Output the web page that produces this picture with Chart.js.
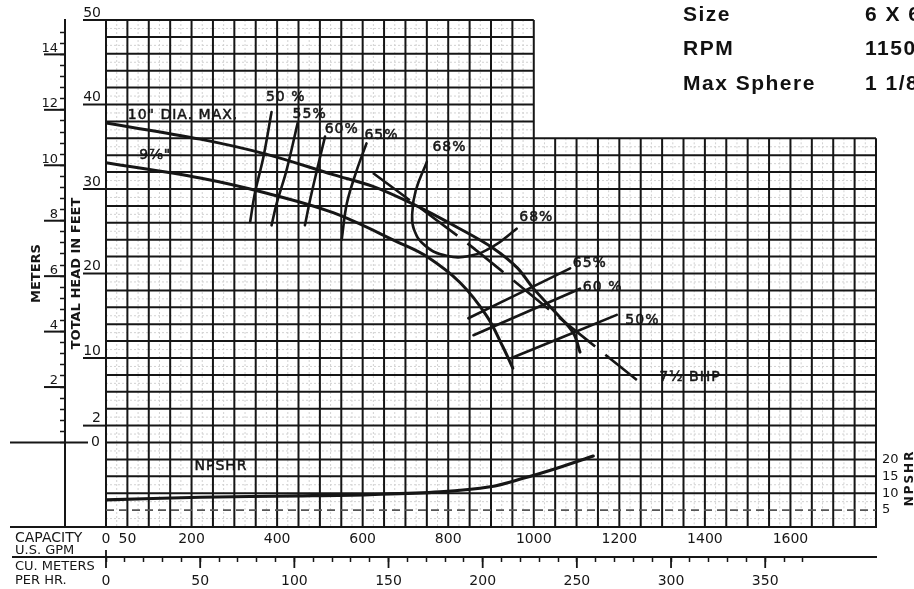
<!DOCTYPE html>
<html>
<head>
<meta charset="utf-8">
<title>6 X 6 — 1150 RPM</title>
<script src="https://cdn.jsdelivr.net/npm/chart.js@4.4.1/dist/chart.umd.min.js"></script>
<style>
  html, body { margin: 0; padding: 0; background: #fff; }
  #wrap { position: relative; width: 914px; height: 589px; overflow: hidden; }
  #chart { position: absolute; left: 0; top: 0; }
  .spec { position: absolute; font: bold 21px "Liberation Sans", Arial, sans-serif; letter-spacing: 1.5px; line-height: 21px; color: #111; white-space: nowrap; }
</style>
</head>
<body>
<div id="wrap">
  <canvas id="chart" width="914" height="589"></canvas>
  <div class="spec" style="left:683px;top:3px">Size</div>
  <div class="spec" style="left:865px;top:3px">6 X 6</div>
  <div class="spec" style="left:683px;top:37px">RPM</div>
  <div class="spec" style="left:865px;top:37px">1150</div>
  <div class="spec" style="left:683px;top:72px">Max Sphere</div>
  <div class="spec" style="left:865px;top:72px">1 1/8</div>
</div>
<script>
// оси
const GPM_MAX = 1800;
const FT_MIN = -10;
const FT_MAX = 50;
const GPM_PER_M3H = 4.402868;
const FT_PER_M = 3.28084;
const NPSH_MAX = 150;
const GRID_GPM = 50;
const GRID_FT = 2;
const NOTCH_GPM = 1000;
const NOTCH_FT = 36;
const NPSH_DASHED_FT = -8;

// подписи делений
const GPM_LABELS = [0, 50, 200, 400, 600, 800, 1000, 1200, 1400, 1600];
const M3H_LABELS = [0, 50, 100, 150, 200, 250, 300, 350];
const M3H_LAST_TICK = 370;
const FEET_LABELS = [50, 40, 30, 20, 10, 2, 0];
const METER_LABELS = [14, 12, 10, 8, 6, 4, 2];
const NPSH_LABELS = [5, 10, 15, 20];

// напор-подача, 10" макс.
const DIA_MAX_GPM = [0, 220, 376, 531, 624, 718, 827, 905, 961, 998, 1045, 1092, 1108];
const DIA_MAX_FT = [37.8, 35.9, 34.1, 31.7, 30.3, 28.2, 25.3, 23.0, 20.7, 18.3, 15.7, 13.0, 10.7];
// 9 7/8"
const DIA_978_GPM = [0, 220, 376, 531, 687, 750, 828, 891, 928, 951];
const DIA_978_FT = [33.1, 31.3, 29.5, 27.2, 23.6, 22.0, 18.9, 14.9, 11.3, 8.8];
// 7 1/2 BHP
const BHP_GPM = [624, 844, 1022, 1241];
const BHP_FT = [31.9, 23.6, 16.3, 7.4];

// кпд
const EFF_50_GPM = [387, 368, 348, 337];
const EFF_50_FT = [39.1, 33.8, 29.5, 26.1];
const EFF_55_GPM = [448, 422, 399, 387];
const EFF_55_FT = [37.8, 32.2, 28.3, 25.7];
const EFF_60_GPM = [512, 493, 477, 465];
const EFF_60_FT = [36.2, 32.2, 28.7, 25.7];
const EFF_65_GPM = [609, 586, 563, 551];
const EFF_65_FT = [35.4, 32.2, 28.3, 24.0];
const EFF_68_GPM = [750, 724, 716, 720, 746, 796, 851, 905, 960];
const EFF_68_FT = [33.2, 29.8, 27.2, 25.2, 23.3, 22.1, 22.1, 23.2, 25.3];
const EFF_R65_GPM = [847, 1085];
const EFF_R65_FT = [14.7, 20.6];
const EFF_R60_GPM = [859, 1108];
const EFF_R60_FT = [12.7, 18.2];
const EFF_R50_GPM = [948, 1194];
const EFF_R50_FT = [10.0, 15.1];

// npshr
const NPSHR_GPM = [0, 220, 453, 617, 781, 898, 975, 1054, 1139];
const NPSHR_FT = [8.0, 8.8, 9.2, 9.6, 10.4, 11.9, 14.4, 17.4, 21.0];

// надписи на поле
const CURVE_TEXT = ['10" DIA. MAX.', '9⅞"', '50 %', '55%', '60%', '65%', '68%', '68%', '65%', '60 %', '50%', '7½ BHP', 'NPSHR'];
const CURVE_TEXT_GPM = [180, 115, 420, 476, 551, 644, 803, 1006, 1131, 1161, 1254, 1365, 269];
const CURVE_TEXT_FT = [38.75, 34.0, 40.8, 38.8, 37.0, 36.4, 34.9, 26.7, 21.2, 18.4, 14.4, 7.75, -2.87];

const INK = '#161616';
const FONT = '"DejaVu Sans", sans-serif';

const pts = (xs, ys) => xs.map((x, i) => ({ x, y: ys[i] }));

function curve(label, xs, ys, extra) {
  return Object.assign({
    label,
    data: pts(xs, ys),
    showLine: true,
    borderColor: INK,
    borderWidth: 2.6,
    borderCapStyle: 'round',
    pointRadius: 0,
    tension: 0.35,
    yAxisID: 'y',
  }, extra || {});
}

// сетка и надписи
const chartDecor = {
  id: 'chartDecor',
  beforeDatasetsDraw(chart) {
    const { ctx, scales } = chart;
    const X = v => scales.x.getPixelForValue(v);
    const Y = v => scales.y.getPixelForValue(v);
    const seg = (x1, y1, x2, y2) => { ctx.beginPath(); ctx.moveTo(x1, y1); ctx.lineTo(x2, y2); ctx.stroke(); };
    ctx.save();

    ctx.strokeStyle = '#d2d2d2';
    ctx.lineWidth = 1;
    ctx.setLineDash([2, 2]);
    for (let g = GRID_GPM / 2; g < GPM_MAX; g += GRID_GPM) {
      seg(X(g), Y(g < NOTCH_GPM ? FT_MAX : NOTCH_FT), X(g), Y(FT_MIN));
    }
    for (let f = FT_MIN + GRID_FT / 2; f < FT_MAX; f += GRID_FT) {
      seg(X(0), Y(f), X(f < NOTCH_FT ? GPM_MAX : NOTCH_GPM), Y(f));
    }

    ctx.setLineDash([]);
    ctx.strokeStyle = INK;
    ctx.lineWidth = 2;
    for (let g = 0; g <= GPM_MAX; g += GRID_GPM) {
      seg(X(g), Y(g <= NOTCH_GPM ? FT_MAX : NOTCH_FT), X(g), Y(FT_MIN));
    }
    for (let f = FT_MIN; f <= FT_MAX; f += GRID_FT) {
      if (f === NPSH_DASHED_FT) continue;
      seg(X(0), Y(f), X(f <= NOTCH_FT ? GPM_MAX : NOTCH_GPM), Y(f));
    }
    ctx.lineWidth = 1.6;
    ctx.strokeStyle = '#555';
    ctx.setLineDash([8, 5]);
    seg(X(0), Y(NPSH_DASHED_FT), X(GPM_MAX), Y(NPSH_DASHED_FT));
    ctx.restore();
  },
  afterDraw(chart) {
    const { ctx, scales } = chart;
    const X = v => scales.x.getPixelForValue(v);
    const Y = v => scales.y.getPixelForValue(v);
    const m = scales.m;
    const q = scales.m3h;
    const seg = (x1, y1, x2, y2) => { ctx.beginPath(); ctx.moveTo(x1, y1); ctx.lineTo(x2, y2); ctx.stroke(); };
    ctx.save();
    ctx.strokeStyle = INK;
    ctx.lineWidth = 2;

    // подчёркивания у футов и метров
    FEET_LABELS.forEach(f => { if (f !== 0) seg(X(0) - 23, Y(f), X(0), Y(f)); });
    seg(10, Y(0), X(0) - 18, Y(0));
    METER_LABELS.forEach(v => seg(m.right - 21, m.getPixelForValue(v), m.right, m.getPixelForValue(v)));

    // линии низа влево
    seg(10, Y(FT_MIN), X(0), Y(FT_MIN));
    seg(12, q.top, X(0), q.top);
    ctx.lineWidth = 1.8;
    M3H_LABELS.forEach(v => {
      const px = q.getPixelForValue(v);
      seg(px, v === 0 ? q.top - 7 : q.top, px, q.top + 11);
    });

    ctx.fillStyle = INK;
    ctx.textBaseline = 'middle';

    // ноль футов на уровне линии
    ctx.textAlign = 'right';
    ctx.font = '14px ' + FONT;
    ctx.fillText('0', X(0) - 6, Y(0));

    // надписи кривых
    ctx.textAlign = 'center';
    ctx.letterSpacing = '1px';
    ctx.lineWidth = 0.5;
    CURVE_TEXT.forEach((t, i) => {
      ctx.fillText(t, X(CURVE_TEXT_GPM[i]), Y(CURVE_TEXT_FT[i]));
      ctx.strokeText(t, X(CURVE_TEXT_GPM[i]), Y(CURVE_TEXT_FT[i]));
    });

    // подписи расхода
    ctx.letterSpacing = '0px';
    ctx.textAlign = 'left';
    ctx.font = '14px ' + FONT;
    ctx.fillText('CAPACITY', 15, scales.x.top + 11);
    ctx.font = '13px ' + FONT;
    ctx.fillText('U.S. GPM', 15, scales.x.top + 24);
    ctx.fillText('CU. METERS', 15, q.top + 10);
    ctx.fillText('PER HR.', 15, q.top + 24);

    // npshr справа
    ctx.translate(910, Y(-4.2));
    ctx.rotate(-Math.PI / 2);
    ctx.textAlign = 'center';
    ctx.font = 'bold 12px ' + FONT;
    ctx.letterSpacing = '2px';
    ctx.fillText('NPSHR', 0, 0);
    ctx.restore();
  },
};

const tickFont = { family: FONT, size: 14 };

new Chart(document.getElementById('chart'), {
  type: 'scatter',
  data: {
    datasets: [
      curve('10" DIA. MAX.', DIA_MAX_GPM, DIA_MAX_FT, { borderWidth: 3 }),
      curve('9 7/8"', DIA_978_GPM, DIA_978_FT, { borderWidth: 3 }),
      curve('7 1/2 BHP', BHP_GPM, BHP_FT, { borderDash: [46, 13], borderCapStyle: 'butt', tension: 0.2 }),
      curve('50%', EFF_50_GPM, EFF_50_FT),
      curve('55%', EFF_55_GPM, EFF_55_FT),
      curve('60%', EFF_60_GPM, EFF_60_FT),
      curve('65%', EFF_65_GPM, EFF_65_FT),
      curve('68%', EFF_68_GPM, EFF_68_FT, { tension: 0.45 }),
      curve('65% r', EFF_R65_GPM, EFF_R65_FT),
      curve('60% r', EFF_R60_GPM, EFF_R60_FT),
      curve('50% r', EFF_R50_GPM, EFF_R50_FT),
      curve('NPSHR', NPSHR_GPM, NPSHR_FT, { yAxisID: 'npsh', borderWidth: 3.2 }),
    ],
  },
  options: {
    responsive: false,
    animation: false,
    events: [],
    layout: { padding: { top: 20, left: 0, right: 0, bottom: 0 } },
    plugins: { legend: { display: false }, tooltip: { enabled: false } },
    scales: {
      x: {
        type: 'linear', position: 'bottom', min: 0, max: GPM_MAX, weight: 0,
        afterFit: s => { s.height = 30; },
        grid: { display: false, drawTicks: false },
        border: { display: true, color: INK, width: 2 },
        ticks: {
          stepSize: GRID_GPM, autoSkip: false, maxRotation: 0, minRotation: 0, padding: 4,
          color: INK, font: tickFont,
          callback: v => GPM_LABELS.includes(v) ? String(v) : '',
        },
      },
      m3h: {
        type: 'linear', position: 'bottom', min: 0, max: GPM_MAX / GPM_PER_M3H, weight: 1,
        afterFit: s => { s.height = 32; },
        afterBuildTicks: s => {
          s.ticks = s.ticks.filter(t => t.value <= M3H_LAST_TICK && Math.abs(t.value / 10 - Math.round(t.value / 10)) < 1e-6);
        },
        grid: { display: true, drawOnChartArea: false, drawTicks: true, tickLength: 5, tickWidth: 1.5, tickColor: INK },
        border: { display: true, color: INK, width: 2 },
        ticks: {
          stepSize: 10, autoSkip: false, maxRotation: 0, minRotation: 0, padding: 11,
          color: INK, font: tickFont,
          callback: v => M3H_LABELS.includes(v) ? String(v) : '',
        },
      },
      y: {
        type: 'linear', position: 'left', min: FT_MIN, max: FT_MAX, weight: 0,
        afterFit: s => { s.width = 41; },
        grid: { display: false, drawTicks: false },
        border: { display: true, color: INK, width: 2 },
        title: {
          display: true, text: 'TOTAL HEAD IN FEET', color: INK,
          font: { family: FONT, size: 13, weight: 'bold' }, padding: { top: 4, bottom: 0 },
        },
        ticks: {
          stepSize: GRID_FT, autoSkip: false, padding: 5, labelOffset: -7,
          color: INK, font: tickFont,
          // ноль рисуется отдельно, на уровне линии
          callback: v => FEET_LABELS.includes(v) && v !== 0 ? String(v) : '',
        },
      },
      m: {
        type: 'linear', position: 'left', min: FT_MIN / FT_PER_M, max: FT_MAX / FT_PER_M, weight: 1,
        afterFit: s => { s.width = 65; },
        afterBuildTicks: s => {
          s.ticks = s.ticks.filter(t => t.value > -1e-6 && Math.abs(t.value / 0.4 - Math.round(t.value / 0.4)) < 1e-6);
        },
        grid: { display: true, drawOnChartArea: false, drawTicks: true, tickLength: 5, tickWidth: 1.5, tickColor: INK },
        border: { display: true, color: INK, width: 2 },
        title: {
          display: true, text: 'METERS', color: INK,
          font: { family: FONT, size: 13, weight: 'bold' }, padding: { top: 29, bottom: 0 },
        },
        ticks: {
          stepSize: 0.4, autoSkip: false, padding: 2, labelOffset: -6,
          color: INK, font: { family: FONT, size: 13 },
          callback: v => {
            const r = Math.round(v);
            return Math.abs(v - r) < 1e-6 && METER_LABELS.includes(r) ? String(r) : '';
          },
        },
      },
      npsh: {
        type: 'linear', position: 'right', min: 0, max: NPSH_MAX,
        afterFit: s => { s.width = 38; },
        afterBuildTicks: s => { s.ticks = NPSH_LABELS.map(v => ({ value: v })); },
        grid: { display: false, drawTicks: false },
        border: { display: false },
        ticks: {
          autoSkip: false, padding: 6, color: INK, font: { family: FONT, size: 13 },
          callback: v => String(v),
        },
      },
    },
  },
  plugins: [chartDecor],
});
</script>
</body>
</html>
